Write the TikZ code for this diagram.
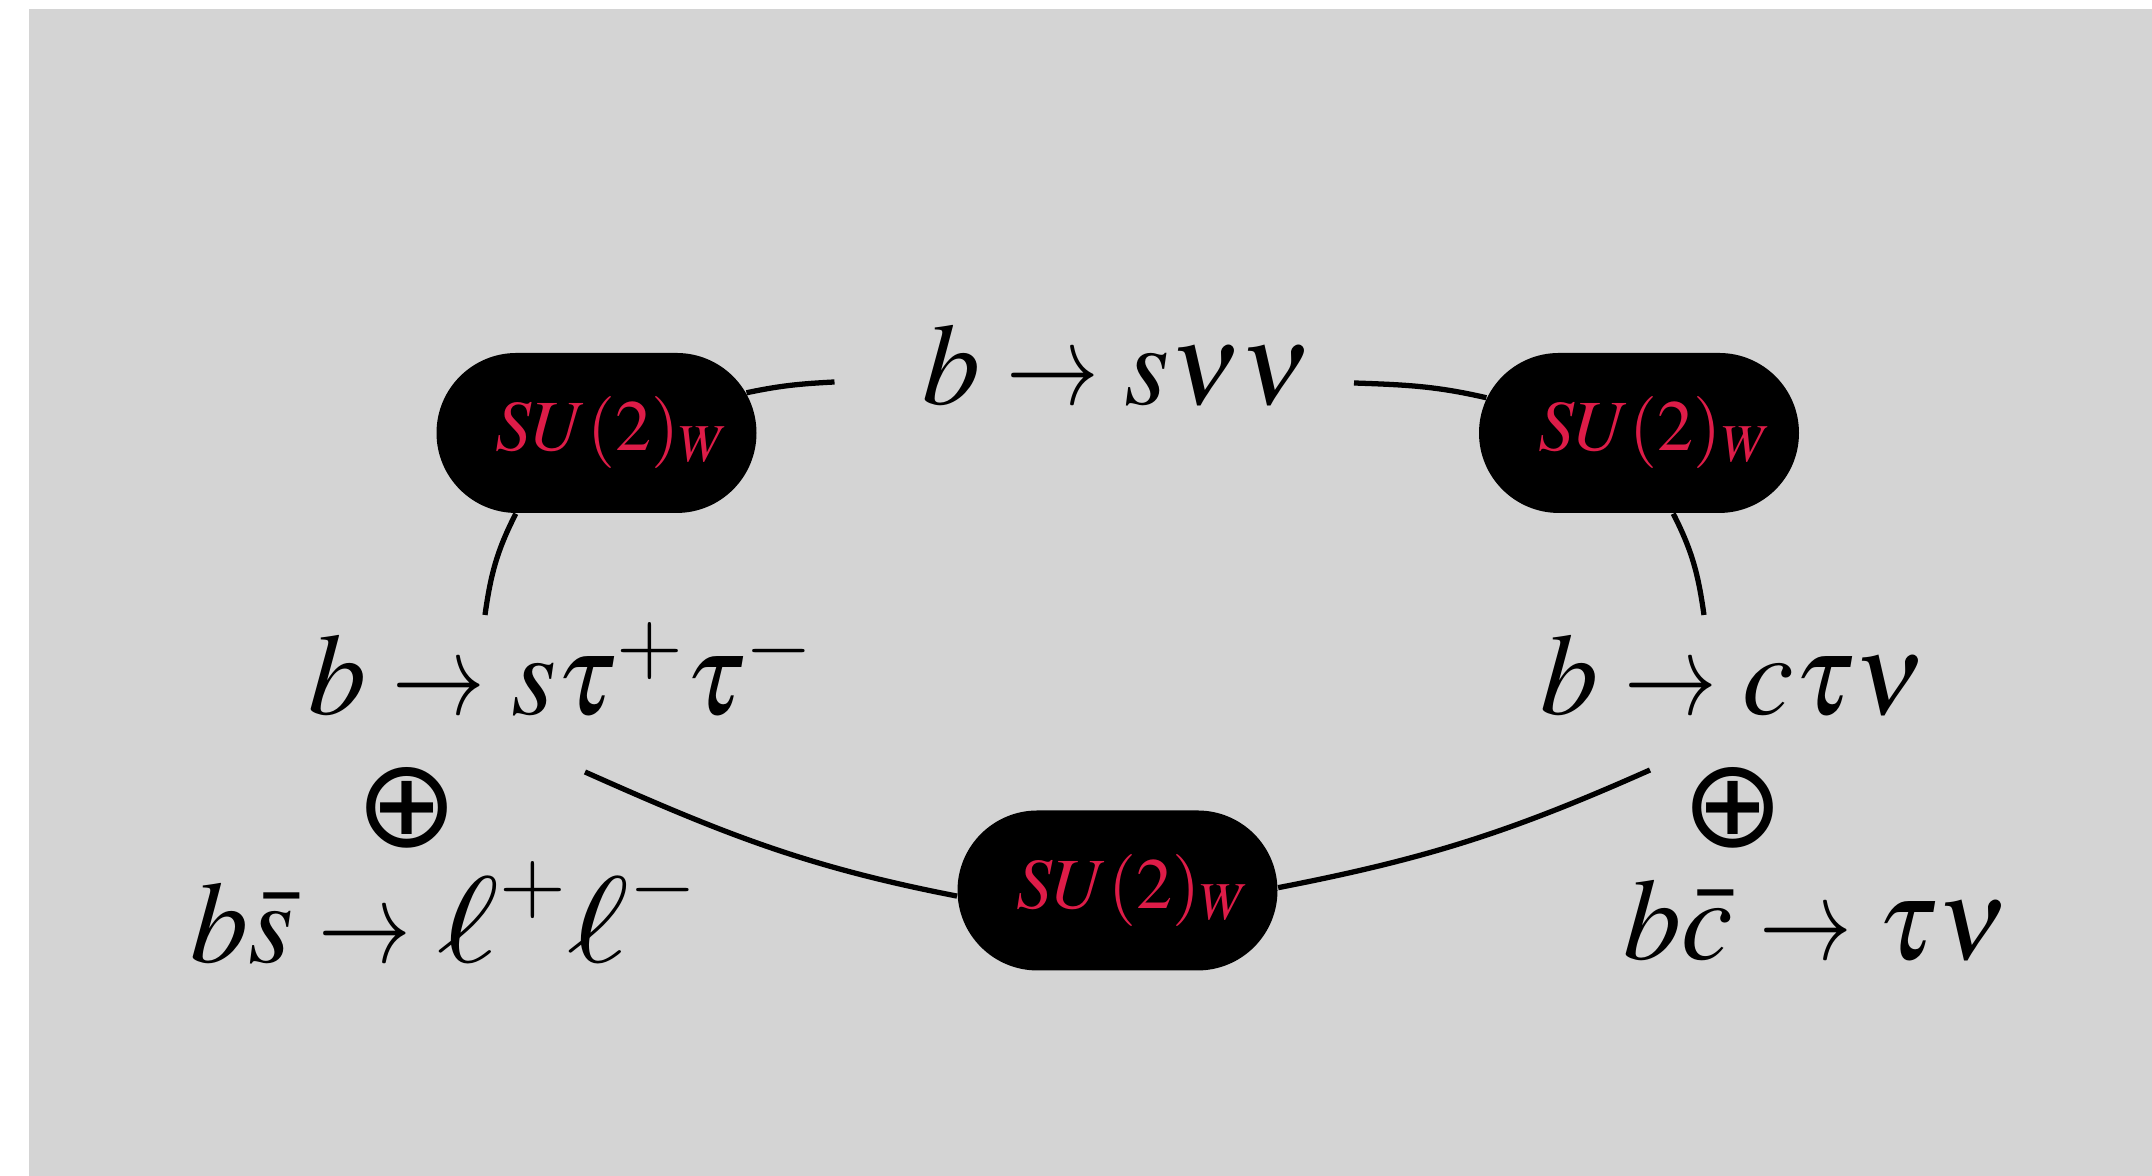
\documentclass[tikz,border=0pt]{standalone}
\usepackage{amsmath}
\usepackage{mathptmx}
\usepackage[no-math]{fontspec}
\newfontfamily\opfont{DejaVu Sans}
\usepackage{graphicx}
\usepackage{tikz}
\usetikzlibrary{shapes.misc}
\definecolor{panelgray}{RGB}{212,212,212}
\definecolor{sured}{RGB}{222,28,72}
\newcommand{\sto}{\mathrel{\scalebox{0.8}[1]{$\rightarrow$}}}
\newcommand{\lep}{\mathord{\scalebox{1.28}[1.06]{$\ell$}}}
\tikzset{
  pill/.style={rounded rectangle, fill=black, minimum width=3.2cm,
               minimum height=1.6cm, inner sep=0pt, text=sured,
               font=\fontsize{20.5}{25}\selectfont},
  decay/.style={inner sep=0pt, font=\fontsize{33}{40}\selectfont},
  link/.style={line width=1.5pt}
}

\begin{document}
\begin{tikzpicture}
  \useasboundingbox (0,0) rectangle (21.52,11.76);
  \fill[panelgray] (0.29,0) rectangle (21.52,11.67);

  \node[pill] (pillL) at (5.965,7.43) {\hspace{3.2mm}$SU(2)_W$};
  \node[pill] (pillR) at (16.39,7.43) {\hspace{3.2mm}$SU(2)_W$};
  \node[pill] (pillB) at (11.175,2.855) {\hspace{3.2mm}$SU(2)_W$};

  \node[decay, anchor=base] (bsnn) at (11.165,7.71) {$b \sto s\nu\nu$};
  \node[decay, anchor=base] (bstt) at (5.615,4.61) {$b \sto s\tau^+\tau^-$};
  \node[decay, font=\fontsize{35}{40}\selectfont\opfont] (plusL) at (4.07,3.68) {⊕};
  \node[decay, anchor=base] (bsll) at (4.44,2.13) {$b\bar{s} \sto \lep^+\lep^-$};
  \node[decay, anchor=base] (bctn) at (17.325,4.61) {$b \sto c\tau\nu$};
  \node[decay, font=\fontsize{35}{40}\selectfont\opfont] (plusR) at (17.335,3.68) {⊕};
  \node[decay, anchor=base] (bctau) at (18.16,2.16) {$b\bar{c} \sto \tau\nu$};

  \coordinate (topL) at (8.345,7.94);
  \coordinate (topR) at (13.54,7.93);
  \coordinate (midL) at (4.85,5.61);
  \coordinate (midR) at (17.04,5.61);
  \coordinate (lowL) at (5.85,4.04);
  \coordinate (lowR) at (16.50,4.06);

  \draw[link] (pillL.15) to[out=12, in=183] (topL);
  \draw[link] (topR) to[out=-2, in=167] (pillR.167);
  \draw[link] (pillL.225) to[out=243, in=82] (midL);
  \draw[link] (pillR.-67.6) to[out=297, in=98] (midR);
  \draw[link] (lowL) to[out=-24, in=169] (pillB.182);
  \draw[link] (pillB.1) to[out=11, in=204] (lowR);
\end{tikzpicture}
\end{document}
